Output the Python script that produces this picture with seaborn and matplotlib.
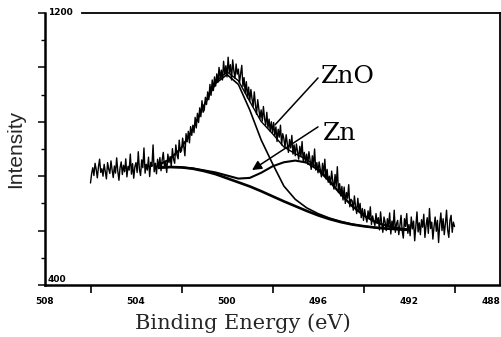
import numpy as np
import pandas as pd
import matplotlib
matplotlib.use("Agg")
import matplotlib.pyplot as plt
import seaborn as sns

# ---------------- data ----------------
# measured spectrum, binding energy grid 506.00 -> 490.00 eV (0.05 eV steps)
spec_energy = np.linspace(506.0, 490.0, 321)
spec_counts = [
    700, 728, 745, 722, 758, 740, 715, 748, 770, 731,
    742, 720, 755, 733, 712, 760, 741, 728, 765, 738,
    716, 750, 729, 774, 735, 708, 745, 762, 725, 752,
    733, 771, 718, 749, 738, 785, 726, 757, 714, 748,
    760, 731, 792, 740, 722, 768, 745, 803, 729, 755,
    738, 776, 719, 761, 749, 812, 733, 758, 727, 770,
    742, 775, 736, 768, 790, 748, 762, 731, 785, 760,
    778, 749, 801, 770, 758, 812, 783, 771, 826, 790,
    795, 832, 808, 780, 845, 821, 852, 818, 866, 840,
    870, 848, 893, 862, 905, 878, 921, 895, 942, 908,
    915, 952, 931, 968, 945, 990, 958, 1003, 972, 1012,
    985, 1021, 996, 1040, 1008, 1032, 1003, 1058, 1019, 1045,
    1012, 1070, 1025, 1048, 1003, 1062, 1030, 1008, 1050, 1020,
    1035, 995, 1022, 1046, 984, 1010, 965, 998, 950, 982,
    940, 975, 948, 925, 968, 930, 902, 945, 918, 890,
    915, 882, 925, 890, 870, 908, 862, 888, 852, 880,
    848, 878, 840, 865, 822, 858, 835, 870, 812, 845,
    830, 805, 842, 815, 790, 828, 803, 840, 785, 812,
    780, 815, 792, 770, 808, 778, 822, 765, 790, 760,
    785, 755, 792, 768, 740, 780, 752, 800, 738, 760,
    730, 762, 741, 718, 758, 725, 770, 712, 740, 702,
    720, 695, 735, 705, 682, 725, 690, 748, 672, 698,
    662, 690, 650, 688, 640, 672, 655, 695, 630, 652,
    648, 620, 662, 632, 610, 655, 618, 640, 598, 625,
    590, 622, 600, 585, 618, 595, 630, 578, 603, 588,
    575, 610, 582, 598, 562, 615, 580, 555, 600, 585,
    560, 595, 572, 612, 550, 588, 568, 620, 555, 580,
    590, 548, 575, 605, 560, 538, 595, 572, 610, 552,
    578, 545, 600, 565, 588, 530, 572, 615, 556, 583,
    548, 592, 570, 608, 540, 575, 598, 552, 625, 566,
    585, 535, 572, 600, 558, 590, 525, 578, 612, 560,
    595, 548, 580, 620, 562, 540, 590, 605, 555, 585,
    572,
]

# fitted curves
fit_energy = [503.0, 502.5, 502.0, 501.5, 501.0, 500.5, 500.0, 499.5, 499.0,
              498.5, 498.0, 497.5, 497.0, 496.5, 496.0, 495.5, 495.0, 494.5,
              494.0, 493.5, 493.0, 492.5, 492.0]
background = [745, 747, 746, 742, 735, 726, 714, 702, 690, 676, 661, 646,
              632, 618, 605, 594, 585, 578, 573, 569, 566, 564, 562]
zno_fit = [753, 771, 804, 858, 929, 993, 1019, 990, 915, 827, 757, 691,
           652, 627, 610, 597, 587, 579, 573, 569, 566, 564, 562]
zn_fit = [745, 747, 746, 743, 737, 731, 722, 713, 715, 730, 749, 761,
          766, 760, 739, 705, 667, 632, 605, 586, 574, 567, 563]
total_fit = [753, 771, 804, 859, 931, 998, 1027, 1001, 940, 881, 845, 806,
             786, 769, 744, 708, 669, 633, 605, 586, 574, 567, 563]

x_tick_labels = ["508", "504", "500", "496", "492", "488"]
x_tick_values = [508, 504, 500, 496, 492, 488]
x_minor_ticks = [506, 502, 498, 494, 490]
y_major_ticks = [400, 560, 720, 880, 1040, 1200]
y_minor_ticks = [480, 640, 800, 960, 1120]

# ---------------- plot ----------------
sns.set_theme(style="white")
plt.rcParams["font.family"] = ["DejaVu Sans"]
plt.rcParams["axes.edgecolor"] = "black"
plt.rcParams["text.color"] = "black"
plt.rcParams["xtick.color"] = "black"
plt.rcParams["ytick.color"] = "black"

fig = plt.figure(figsize=(5.02, 3.37), dpi=100)
ax = fig.add_axes([45 / 502, 52 / 337, 455 / 502, 272 / 337])

df_spec = pd.DataFrame({"E": spec_energy, "I": spec_counts})
sns.lineplot(data=df_spec, x="E", y="I", ax=ax, color="black", lw=1.0,
             estimator=None, sort=False)

fits = pd.DataFrame({"E": fit_energy, "bg": background, "zno": zno_fit,
                     "zn": zn_fit, "tot": total_fit})
for col, lw in [("bg", 1.9), ("zno", 1.2), ("zn", 1.5), ("tot", 1.0)]:
    sns.lineplot(data=fits, x="E", y=col, ax=ax, color="black", lw=lw,
                 estimator=None, sort=False)

ax.set_xlim(508, 488)
ax.set_ylim(400, 1200)

# x ticks: labels at 508..488, tick marks at the odd positions
ax.set_xticks(x_tick_values)
ax.set_xticklabels(x_tick_labels, fontsize=6.5, fontweight="bold")
ax.get_xticklabels()[-1].set_ha("right")
ax.set_xticks(x_minor_ticks, minor=True)
ax.tick_params(axis="x", which="major", length=0, pad=9, bottom=True)
ax.tick_params(axis="x", which="minor", length=6, width=1.2,
               direction="out", bottom=True)

# y ticks (no labels except the two end values written inside)
ax.set_yticks(y_major_ticks)
ax.set_yticks(y_minor_ticks, minor=True)
ax.tick_params(axis="y", which="major", length=5, width=1.1,
               direction="out", left=True, labelleft=False)
ax.tick_params(axis="y", which="minor", length=3, width=1.0,
               direction="out", left=True)

ax.text(507.85, 1200, "1200", fontsize=6.5, fontweight="bold",
        ha="left", va="center")
ax.text(507.9, 404, "400", fontsize=6.5, fontweight="bold",
        ha="left", va="bottom")

for side in ["left", "bottom"]:
    ax.spines[side].set_linewidth(1.8)
for side in ["top", "right"]:
    ax.spines[side].set_linewidth(1.3)
ax.spines["top"].set_bounds(506.37, 488)

ax.set_xlabel("Binding Energy (eV)", family="DejaVu Serif", fontsize=15)
ax.xaxis.set_label_coords(0.435, -0.105)
ax.set_ylabel("Intensity", family=["Liberation Sans", "DejaVu Sans"],
              fontsize=15)
ax.yaxis.set_label_coords(-0.044, 0.5)

# annotations
ax.text(495.85, 994, "ZnO", family="DejaVu Serif", fontsize=18,
        ha="left", va="baseline")
ax.plot([496.0, 497.89], [1009, 871], color="black", lw=1.1)
ax.text(495.8, 826, "Zn", family="DejaVu Serif", fontsize=18,
        ha="left", va="baseline")
ax.annotate("", xy=(498.9, 738), xytext=(496.0, 865),
            arrowprops=dict(arrowstyle="-|>", color="black", lw=1.1,
                            mutation_scale=14, shrinkA=0, shrinkB=0))

fig.savefig("out.png", dpi=100)
